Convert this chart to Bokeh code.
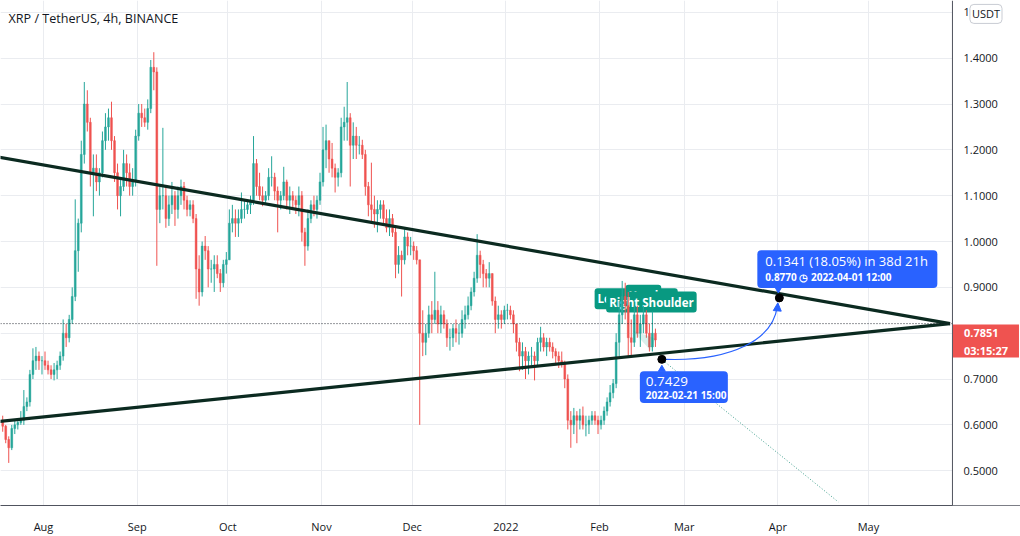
import numpy as np
import pandas as pd
from bokeh.plotting import figure
from bokeh.models import (Range1d, FixedTicker, Label, BoxAnnotation,
                          Arrow, NormalHead, Span, ColumnDataSource)
from bokeh.embed import file_html
from bokeh.resources import INLINE

# ---------------- data (daily candles) ----------------
first_date = "2021-07-18"
first_open = 0.610

high = [
    # Jul 18-31
    0.620, 0.600, 0.575, 0.600, 0.610, 0.615, 0.630, 0.676, 0.660, 0.720, 0.767, 0.770, 0.760, 0.750,
    # Aug
    0.760, 0.740, 0.730, 0.735, 0.740, 0.760, 0.830, 0.820, 0.840, 0.900, 1.092, 1.050, 1.220, 1.348,
    1.330, 1.270, 1.190, 1.190, 1.160, 1.240, 1.280, 1.290, 1.305, 1.230, 1.170, 1.140, 1.200, 1.190,
    1.170, 1.160, 1.244,
    # Sep
    1.300, 1.300, 1.290, 1.310, 1.396, 1.413, 1.380, 1.120, 1.248, 1.120, 1.100, 1.130, 1.110, 1.120,
    1.135, 1.130, 1.100, 1.090, 1.090, 1.060, 0.970, 1.000, 1.012, 0.990, 0.960, 0.970, 0.970, 0.940,
    0.960, 0.977,
    # Oct
    1.070, 1.080, 1.070, 1.070, 1.107, 1.090, 1.090, 1.100, 1.230, 1.180, 1.150, 1.120, 1.110, 1.160,
    1.186, 1.150, 1.120, 1.110, 1.163, 1.135, 1.120, 1.110, 1.100, 1.120, 1.110, 1.030, 1.070, 1.090,
    1.100, 1.100, 1.150,
    # Nov
    1.250, 1.255, 1.220, 1.215, 1.170, 1.160, 1.270, 1.294, 1.348, 1.280, 1.260, 1.250, 1.230, 1.222,
    1.200, 1.130, 1.172, 1.100, 1.090, 1.090, 1.090, 1.070, 1.070, 1.060, 1.030, 0.990, 0.980, 1.027,
    1.020, 1.010,
    # Dec
    1.000, 0.990, 0.960, 0.850, 0.820, 0.860, 0.870, 0.934, 0.870, 0.860, 0.850, 0.830, 0.810, 0.820,
    0.830, 0.820, 0.850, 0.860, 0.880, 0.900, 0.934, 1.016, 0.980, 0.960, 0.940, 0.955, 0.930, 0.880,
    0.860, 0.850, 0.860,
    # Jan
    0.864, 0.860, 0.850, 0.820, 0.790, 0.780, 0.770, 0.760, 0.770, 0.760, 0.790, 0.814, 0.800, 0.790,
    0.790, 0.780, 0.767, 0.760, 0.760, 0.740, 0.710, 0.630, 0.637, 0.630, 0.635, 0.640, 0.620, 0.620,
    0.630, 0.630, 0.620,
    # Feb 1-19
    0.620, 0.640, 0.660, 0.687, 0.700, 0.800, 0.870, 0.914, 0.910, 0.890, 0.830, 0.860, 0.860, 0.840,
    0.860, 0.850, 0.820, 0.847, 0.810,
]

low = [
    0.585, 0.560, 0.517, 0.545, 0.580, 0.590, 0.600, 0.600, 0.630, 0.640, 0.700, 0.720, 0.720, 0.710,
    0.720, 0.710, 0.700, 0.697, 0.700, 0.720, 0.740, 0.770, 0.780, 0.820, 0.870, 0.934, 1.020, 1.170,
    1.240, 1.120, 1.055, 1.110, 1.100, 1.140, 1.200, 1.220, 1.200, 1.130, 1.070, 1.055, 1.110, 1.120,
    1.100, 1.100, 1.120,
    1.220, 1.250, 1.250, 1.244, 1.280, 1.330, 0.947, 1.040, 1.070, 1.030, 1.034, 1.060, 1.034, 1.050,
    1.080, 1.070, 1.055, 1.055, 1.040, 0.875, 0.860, 0.880, 0.960, 0.900, 0.910, 0.890, 0.920, 0.890,
    0.900, 0.930,
    0.960, 1.020, 1.010, 1.010, 1.040, 1.050, 1.060, 1.060, 1.080, 1.100, 1.090, 1.077, 1.080, 1.090,
    1.120, 1.090, 1.020, 1.070, 1.090, 1.070, 1.060, 1.070, 1.060, 1.055, 1.000, 0.947, 0.980, 1.040,
    1.055, 1.050, 1.080,
    1.120, 1.160, 1.150, 1.140, 1.107, 1.120, 1.140, 1.220, 1.220, 1.120, 1.180, 1.180, 1.190, 1.180,
    1.100, 1.055, 1.040, 1.030, 1.020, 1.050, 1.040, 1.020, 1.012, 1.010, 0.920, 0.930, 0.880, 0.950,
    0.970, 0.970,
    0.960, 0.950, 0.600, 0.750, 0.752, 0.790, 0.800, 0.820, 0.800, 0.800, 0.810, 0.770, 0.762, 0.770,
    0.780, 0.775, 0.790, 0.810, 0.830, 0.850, 0.880, 0.910, 0.920, 0.900, 0.900, 0.900, 0.860, 0.800,
    0.810, 0.810, 0.820,
    0.830, 0.830, 0.800, 0.760, 0.717, 0.720, 0.700, 0.710, 0.730, 0.697, 0.730, 0.760, 0.760, 0.750,
    0.760, 0.745, 0.730, 0.724, 0.725, 0.680, 0.590, 0.550, 0.580, 0.560, 0.590, 0.590, 0.575, 0.580,
    0.600, 0.600, 0.580,
    0.590, 0.600, 0.620, 0.640, 0.658, 0.680, 0.750, 0.820, 0.830, 0.750, 0.750, 0.770, 0.790, 0.770,
    0.800, 0.790, 0.760, 0.760, 0.770,
]

close = [
    0.597, 0.568, 0.550, 0.592, 0.600, 0.605, 0.610, 0.640, 0.650, 0.710, 0.740, 0.750, 0.740, 0.740,
    0.730, 0.720, 0.710, 0.720, 0.730, 0.750, 0.800, 0.790, 0.830, 0.880, 0.980, 1.040, 1.190, 1.300,
    1.260, 1.150, 1.160, 1.130, 1.150, 1.220, 1.250, 1.270, 1.220, 1.150, 1.100, 1.120, 1.170, 1.150,
    1.120, 1.130, 1.230,
    1.280, 1.270, 1.260, 1.290, 1.380, 1.370, 1.070, 1.100, 1.100, 1.050, 1.080, 1.100, 1.070, 1.100,
    1.120, 1.090, 1.070, 1.080, 1.050, 0.940, 0.890, 0.990, 0.980, 0.940, 0.940, 0.950, 0.930, 0.910,
    0.950, 0.960,
    1.040, 1.050, 1.040, 1.050, 1.070, 1.070, 1.080, 1.090, 1.170, 1.120, 1.100, 1.090, 1.100, 1.140,
    1.140, 1.110, 1.090, 1.100, 1.130, 1.090, 1.100, 1.090, 1.080, 1.100, 1.020, 0.990, 1.050, 1.080,
    1.070, 1.090, 1.130,
    1.200, 1.220, 1.180, 1.160, 1.140, 1.150, 1.250, 1.260, 1.270, 1.210, 1.230, 1.210, 1.210, 1.190,
    1.120, 1.080, 1.070, 1.060, 1.070, 1.080, 1.050, 1.030, 1.050, 1.020, 0.950, 0.970, 0.960, 1.010,
    0.990, 0.990,
    0.980, 0.960, 0.800, 0.780, 0.800, 0.840, 0.830, 0.850, 0.820, 0.840, 0.820, 0.790, 0.790, 0.810,
    0.800, 0.800, 0.830, 0.840, 0.860, 0.890, 0.920, 0.970, 0.950, 0.930, 0.920, 0.930, 0.870, 0.830,
    0.840, 0.830, 0.850,
    0.850, 0.840, 0.820, 0.780, 0.750, 0.760, 0.740, 0.750, 0.750, 0.740, 0.780, 0.790, 0.770, 0.780,
    0.770, 0.760, 0.750, 0.740, 0.735, 0.700, 0.610, 0.600, 0.620, 0.610, 0.620, 0.600, 0.600, 0.610,
    0.620, 0.610, 0.600,
    0.610, 0.630, 0.650, 0.670, 0.690, 0.780, 0.840, 0.880, 0.860, 0.790, 0.780, 0.840, 0.800, 0.820,
    0.840, 0.800, 0.770, 0.800, 0.7851,
]

month_tick_dates = ["2021-08-01", "2021-09-01", "2021-10-01", "2021-11-01", "2021-12-01",
                    "2022-01-01", "2022-02-01", "2022-03-01", "2022-04-01", "2022-05-01"]
month_tick_labels = ["Aug", "Sep", "Oct", "Nov", "Dec", "2022", "Feb", "Mar", "Apr", "May"]
price_ticks = [0.5, 0.6, 0.7, 0.8, 0.9, 1.0, 1.1, 1.2, 1.3, 1.4, 1.5]

title_text = "XRP / TetherUS, 4h, BINANCE"
currency = "USDT"
last_price = 0.7851
countdown = "03:15:27"
dotted_line_price = 0.8209
price_scale_date = "2022-05-28 19:00"   # where the price scale begins

trend_dates = ["2021-07-17", "2022-05-28"]
upper_trend_prices = [1.184, 0.821]
lower_trend_prices = [0.607, 0.821]

measure_start_date, measure_start_price = "2022-02-21 15:00", 0.7429
measure_end_date, measure_end_price = "2022-04-01 12:00", 0.8770
measure_text = "0.1341 (18.05%) in 38d 21h"

projection_dates = ["2022-02-22 00:00", "2022-04-21"]
projection_prices = [0.7405, 0.432]

pattern_names = ["Left Shoulder", "Head", "Right Shoulder"]
pattern_label_dates = ["2022-02-13 03:00", "2022-02-15 12:00", "2022-02-18 04:00"]
pattern_label_prices = [0.8752, 0.8830, 0.8680]
pattern_fill_dates = ["2022-02-11 22:00", "2022-02-18 05:00", "2022-02-19 12:00"]
pattern_fill_prices = [0.8058, 0.7602, 0.7884]

# ---------------- layout constants ----------------
UP, DOWN = "#26a69a", "#ef5350"
BLUE = "#2962ff"
TEAL = "#089981"
LINE_DARK = "#0b2a20"
AXIS_GREY = "#50535e"
TEXT = "#131722"
FONT = "Open Sans"
W, H = 1020, 536
FRAME_H = 508
PXD = 3.0219                      # pixels per day
X0 = -14.23
X1 = X0 + W / PXD
Y0, Y1 = 0.4241, 1.5258
PXP = FRAME_H / (Y1 - Y0)

BASE = pd.Timestamp("2021-08-01")


def to_day(s):
    return (pd.Timestamp(s) - BASE) / pd.Timedelta(days=1)


def ox(d, px):
    return d + px / PXD


def oy(pr, px_down):
    return pr - px_down / PXP


assert len(high) == len(low) == len(close)
n = len(close)
dates = pd.date_range(first_date, periods=n, freq="D")
xday = ((dates - BASE) / pd.Timedelta(days=1)).to_numpy() + 0.5
opens = np.array([first_open] + close[:-1])
closes = np.array(close)
colors = np.where(closes >= opens, UP, DOWN)
src = ColumnDataSource(dict(x=xday, h=high, l=low,
                            top=np.maximum(opens, closes), bottom=np.minimum(opens, closes),
                            color=colors))

p = figure(width=W, height=H, x_range=Range1d(X0, X1), y_range=Range1d(Y0, Y1),
           y_axis_location="right", output_backend="svg", toolbar_location=None,
           min_border_left=0, min_border_top=0, min_border_right=0, min_border_bottom=H - FRAME_H)
p.outline_line_color = None
p.background_fill_color = "white"
p.border_fill_color = "white"

month_days = [int(round(to_day(d))) for d in month_tick_dates]
p.xaxis.ticker = FixedTicker(ticks=month_days)
p.xgrid.ticker = FixedTicker(ticks=month_days)
p.xaxis.major_label_overrides = {d: lab for d, lab in zip(month_days, month_tick_labels)}
p.xaxis.axis_line_color = AXIS_GREY
p.xaxis.major_tick_line_color = None
p.xaxis.minor_tick_line_color = None
p.xaxis.major_label_text_font = FONT
p.xaxis.major_label_text_font_size = "11px"
p.xaxis.major_label_text_color = TEXT
p.xaxis.major_label_standoff = 7
# the price scale is drawn inside the canvas (TradingView style), see below
p.yaxis.visible = False
p.yaxis.ticker = FixedTicker(ticks=price_ticks)
p.ygrid.ticker = FixedTicker(ticks=price_ticks)
p.xgrid.grid_line_color = "#eaecf0"
p.ygrid.grid_line_color = "#eaecf0"

# head & shoulders labels (beneath candles)
for name, d, pr in zip(pattern_names, pattern_label_dates, pattern_label_prices):
    p.add_layout(Label(x=to_day(d), y=pr, text=name, text_align="center", text_baseline="middle",
                       text_font=FONT, text_font_size="11.5px", text_font_style="bold",
                       text_color="white", background_fill_color=TEAL, padding=3,
                       border_radius=3, level="underlay"))

# candles
p.segment(x0="x", y0="l", x1="x", y1="h", line_color="color", line_width=1, source=src)
p.vbar(x="x", width=0.6, top="top", bottom="bottom", fill_color="color", line_color="color",
       line_width=0.5, source=src)

# pattern shading
p.patch([to_day(d) for d in pattern_fill_dates], pattern_fill_prices,
        fill_color=TEAL, fill_alpha=0.15, line_color=None)

# dotted horizontal line
p.add_layout(Span(location=dotted_line_price, dimension="width", line_color=TEXT,
                  line_dash="1 2", line_width=1, line_alpha=0.9))

# trend lines
tdays = [to_day(d) for d in trend_dates]
p.line(tdays, upper_trend_prices, line_color=LINE_DARK, line_width=3.2)
p.line(tdays, lower_trend_prices, line_color=LINE_DARK, line_width=3.2)

# projection dotted line
p.line([to_day(d) for d in projection_dates], projection_prices, line_color="#3f9e8c",
       line_dash="1 2", line_width=1)

# measurement
sx_, sy_ = to_day(measure_start_date), measure_start_price
ex_, ey_ = to_day(measure_end_date), measure_end_price
p.bezier(x0=[ox(sx_, 4)], y0=[sy_], x1=[ox(ex_, -2)], y1=[oy(ey_, 8)],
         cx0=[ox(sx_, 70)], cy0=[oy(sy_, 2)], cx1=[ox(ex_, -6)], cy1=[oy(ey_, 42)],
         line_color=BLUE, line_width=1.2)
p.add_layout(Arrow(end=NormalHead(size=8, fill_color=BLUE, line_color=BLUE), line_color=BLUE,
                   x_start=ox(ex_, -2), y_start=oy(ey_, 12), x_end=ox(ex_, -1.5), y_end=oy(ey_, 5)))

# blue boxes
p.add_layout(BoxAnnotation(left=ox(sx_, -22), right=ox(sx_, 66), top=oy(sy_, 12), bottom=oy(sy_, 44),
                           fill_color=BLUE, fill_alpha=1, line_color=None, border_radius=4))
p.add_layout(BoxAnnotation(left=ox(ex_, -22), right=ox(ex_, 158), top=oy(ey_, -48), bottom=oy(ey_, -10),
                           fill_color=BLUE, fill_alpha=1, line_color=None, border_radius=4))
p.scatter([ox(sx_, 0)], [oy(sy_, 10)], marker="triangle", size=7, color=BLUE)
p.scatter([ox(ex_, -1)], [oy(ey_, -9)], marker="inverted_triangle", size=7, color=BLUE)

p.add_layout(Label(x=ox(sx_, -16), y=oy(sy_, 22.5), text=f"{measure_start_price:.4f}",
                   text_font=FONT, text_font_size="13.5px", text_color="white",
                   text_baseline="middle"))
p.add_layout(Label(x=ox(sx_, -16), y=oy(sy_, 35.5),
                   text=pd.Timestamp(measure_start_date).strftime("%Y-%m-%d %H:%M"),
                   text_font=FONT, text_font_size="10px", text_font_style="bold",
                   text_color="white", text_baseline="middle"))
p.add_layout(Label(x=ox(ex_, -14), y=oy(ey_, -37), text=measure_text,
                   text_font=FONT, text_font_size="13px", text_color="white",
                   text_baseline="middle"))
p.add_layout(Label(x=ox(ex_, -14), y=oy(ey_, -21),
                   text=f"{measure_end_price:.4f} \u25f7 " + pd.Timestamp(measure_end_date).strftime("%Y-%m-%d   %H:%M"),
                   text_font=FONT, text_font_size="10px", text_font_style="bold",
                   text_color="white", text_baseline="middle"))

# measurement points
p.scatter([sx_, ex_], [sy_, ey_], size=8, color="black")

# title
p.add_layout(Label(x=ox(X0, 8), y=oy(Y1, 18), text=title_text, text_font=FONT, text_font_size="12.6px",
                   text_color=TEXT, text_baseline="middle"))

# ---------- price scale (right strip) ----------
scale_x = to_day(price_scale_date)
p.add_layout(BoxAnnotation(left=scale_x, fill_color="white", fill_alpha=1, line_color=None))
p.add_layout(Span(location=scale_x, dimension="height", line_color=AXIS_GREY, line_width=1))
for t in price_ticks:
    p.add_layout(Label(x=ox(scale_x, 11), y=t, text=f"{t:.4f}", text_font=FONT,
                       text_font_size="11px", text_color=TEXT, text_baseline="middle"))

# currency button
p.add_layout(Label(x=ox(scale_x, 33.5), y=oy(Y1, 13.5), text=currency, text_font=FONT,
                   text_font_size="11px", text_color=TEXT, text_align="center",
                   text_baseline="middle", background_fill_color="white",
                   border_line_color="#c9ccd3", padding=2, border_radius=4))

# last price tag
p.add_layout(Label(x=ox(scale_x, 0.5), y=oy(last_price, 1), text=f"{last_price:.4f}\n{countdown}",
                   text_font=FONT, text_font_size="11px", text_font_style="bold",
                   text_color="white", text_baseline="middle", background_fill_color="#ef5350",
                   padding=(11, 0)))

open("out.html", "w").write(file_html(p, INLINE))
